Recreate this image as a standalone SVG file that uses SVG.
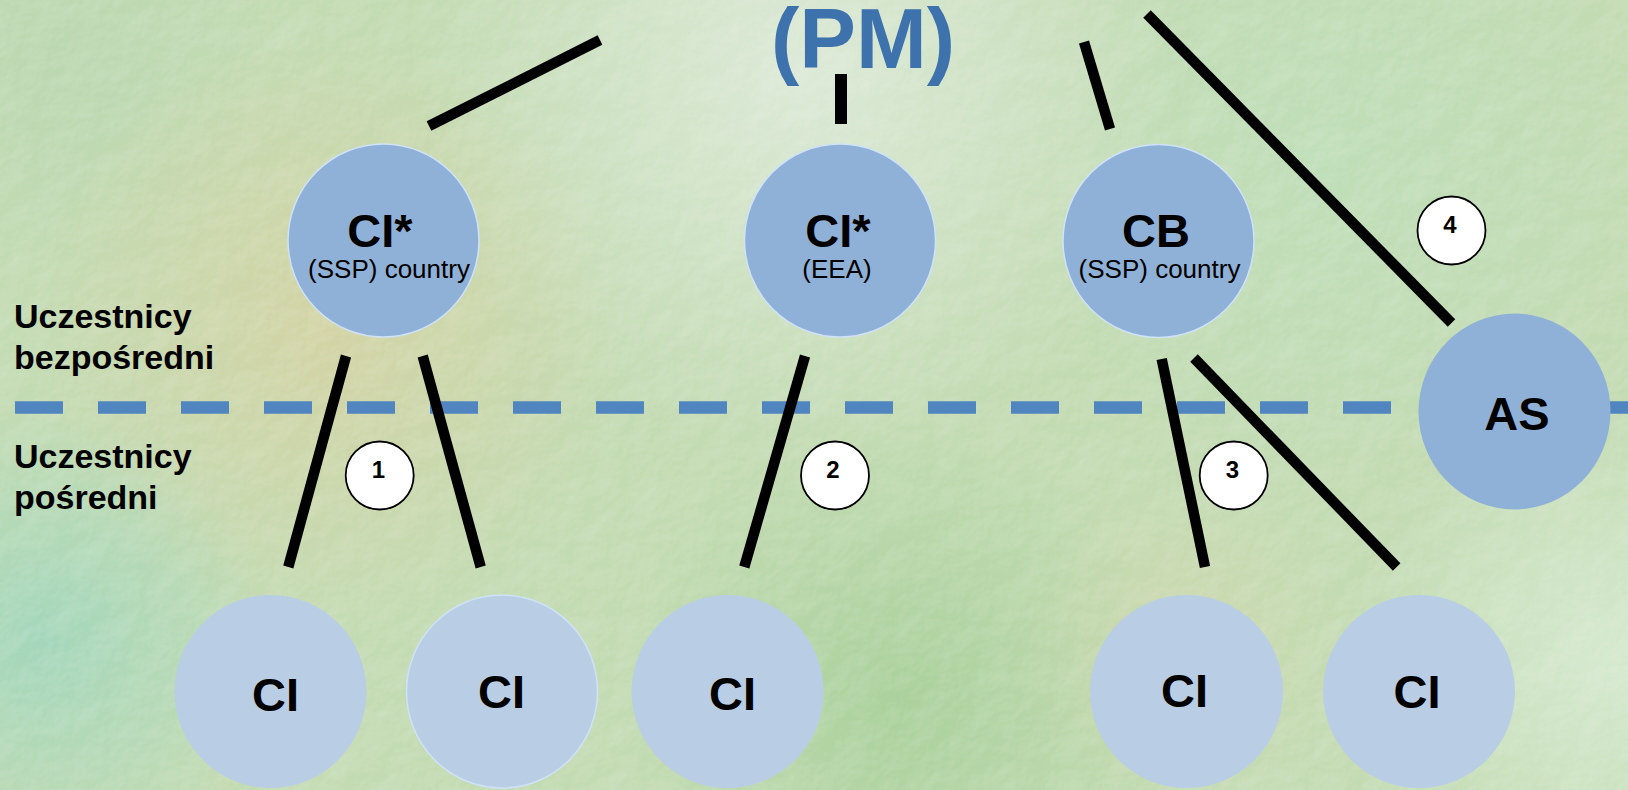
<svg xmlns="http://www.w3.org/2000/svg" width="1628" height="790" viewBox="0 0 1628 790">
<defs>
<style>
.conn line { stroke:#000; stroke-width:10.5; stroke-linecap:butt; }
.n1 { fill:#8fb1d7; }
.n2 { fill:#b9cee5; }
.rim { stroke:#cfe2f8; stroke-width:1.5; }
.big { font-family:"Liberation Sans", Arial, sans-serif; font-weight:bold; font-size:47px; text-anchor:middle; fill:#000; }
.sub { font-family:"Liberation Sans", Arial, sans-serif; font-size:26px; text-anchor:middle; fill:#000; }
.side { font-family:"Liberation Sans", Arial, sans-serif; font-weight:bold; font-size:34px; fill:#000; }
.badge circle { fill:#fff; stroke:#000; stroke-width:1.8; }
.badge text { font-family:"Liberation Sans", Arial, sans-serif; font-weight:bold; font-size:24px; text-anchor:middle; fill:#000; }
.title { font-family:"Liberation Sans", Arial, sans-serif; font-weight:bold; font-size:85px; text-anchor:middle; fill:#3e72ad; }
</style>
<radialGradient id="g1" cx="330" cy="330" r="300" gradientUnits="userSpaceOnUse"><stop offset="0" stop-color="#d6d2a2" stop-opacity="0.85"/><stop offset="1" stop-color="#d6d2a2" stop-opacity="0"/></radialGradient>
<radialGradient id="g2" cx="800" cy="70" r="380" gradientUnits="userSpaceOnUse"><stop offset="0" stop-color="#e2ede0" stop-opacity="0.8"/><stop offset="1" stop-color="#e2ede0" stop-opacity="0"/></radialGradient>
<radialGradient id="g3" cx="40" cy="640" r="230" gradientUnits="userSpaceOnUse"><stop offset="0" stop-color="#a0d6bc" stop-opacity="0.9"/><stop offset="1" stop-color="#a0d6bc" stop-opacity="0"/></radialGradient>
<radialGradient id="g4" cx="900" cy="700" r="280" gradientUnits="userSpaceOnUse"><stop offset="0" stop-color="#a4ce96" stop-opacity="0.8"/><stop offset="1" stop-color="#a4ce96" stop-opacity="0"/></radialGradient>
<radialGradient id="g5" cx="1610" cy="660" r="260" gradientUnits="userSpaceOnUse"><stop offset="0" stop-color="#dbeed8" stop-opacity="0.75"/><stop offset="1" stop-color="#dbeed8" stop-opacity="0"/></radialGradient>
<radialGradient id="g6" cx="1330" cy="160" r="320" gradientUnits="userSpaceOnUse"><stop offset="0" stop-color="#bce0bc" stop-opacity="0.6"/><stop offset="1" stop-color="#bce0bc" stop-opacity="0"/></radialGradient>
<radialGradient id="g7" cx="1180" cy="640" r="170" gradientUnits="userSpaceOnUse"><stop offset="0" stop-color="#d4d6aa" stop-opacity="0.5"/><stop offset="1" stop-color="#d4d6aa" stop-opacity="0"/></radialGradient>
<radialGradient id="g8" cx="60" cy="60" r="220" gradientUnits="userSpaceOnUse"><stop offset="0" stop-color="#b8d6b0" stop-opacity="0.7"/><stop offset="1" stop-color="#b8d6b0" stop-opacity="0"/></radialGradient>
<filter id="tex" x="0" y="0" width="100%" height="100%">
<feTurbulence type="fractalNoise" baseFrequency="0.028" numOctaves="4" seed="7" result="n"/>
<feDiffuseLighting in="n" surfaceScale="3" lighting-color="#ffffff" result="l"><feDistantLight azimuth="235" elevation="55"/></feDiffuseLighting>
<feColorMatrix type="matrix" values="0 0 0 0 1  0 0 0 0 1  0 0 0 0 1  1.3 0 0 0 -0.95"/>
</filter>
</defs>

<g id="background">
<rect x="0" y="0" width="1628" height="790" fill="#c3dbb3"/>
<rect x="0" y="0" width="1628" height="790" fill="url(#g8)"/>
<rect x="0" y="0" width="1628" height="790" fill="url(#g6)"/>
<rect x="0" y="0" width="1628" height="790" fill="url(#g1)"/>
<rect x="0" y="0" width="1628" height="790" fill="url(#g2)"/>
<rect x="0" y="0" width="1628" height="790" fill="url(#g3)"/>
<rect x="0" y="0" width="1628" height="790" fill="url(#g4)"/>
<rect x="0" y="0" width="1628" height="790" fill="url(#g5)"/>
<rect x="0" y="0" width="1628" height="790" fill="url(#g7)"/>
<rect x="0" y="0" width="1628" height="790" filter="url(#tex)" opacity="0.45"/>
</g>

<g id="title"><text class="title" x="863" y="68">(PM)</text></g>

<g id="side-labels">
<text class="side" x="14" y="328">Uczestnicy</text>
<text class="side" x="14" y="369">bezpośredni</text>
<text class="side" x="14" y="468">Uczestnicy</text>
<text class="side" x="14" y="509">pośredni</text>
</g>

<g id="divider"><line x1="15" y1="407.5" x2="1628" y2="407.5" stroke="#5085c0" stroke-width="12.5" stroke-dasharray="48 35"/></g>

<g id="connectors" class="conn">
<line x1="600" y1="40" x2="429" y2="126"/>
<line x1="841" y1="74" x2="841" y2="124" style="stroke-width:12"/>
<line x1="1084" y1="42" x2="1110" y2="129"/>
<line x1="1147" y1="14" x2="1451.5" y2="323"/>
<line x1="346" y1="356" x2="288.3" y2="567"/>
<line x1="422.7" y1="356" x2="480.7" y2="567"/>
<line x1="805" y1="356" x2="744.3" y2="567"/>
<line x1="1161.7" y1="359" x2="1205" y2="567"/>
<line x1="1194" y1="358" x2="1396.7" y2="567"/>
</g>

<g id="node-ci-ssp">
<ellipse class="n1 rim" cx="383.5" cy="240.5" rx="95.5" ry="96.5"/>
<text class="big" x="380" y="247">CI*</text>
<text class="sub" x="389" y="278">(SSP) country</text>
</g>
<g id="node-ci-eea">
<ellipse class="n1 rim" cx="840" cy="240.5" rx="95.5" ry="96.5"/>
<text class="big" x="838" y="247">CI*</text>
<text class="sub" x="837" y="278">(EEA)</text>
</g>
<g id="node-cb">
<ellipse class="n1 rim" cx="1158.5" cy="241" rx="95.5" ry="96.5"/>
<text class="big" x="1156" y="247">CB</text>
<text class="sub" x="1159.5" y="278">(SSP) country</text>
</g>
<g id="node-as">
<ellipse class="n1" cx="1514.5" cy="411.5" rx="96" ry="98"/>
<text class="big" x="1517" y="430">AS</text>
</g>

<g id="node-ci-1">
<ellipse class="n2" cx="270.5" cy="691.5" rx="96" ry="96.5"/>
<text class="big" x="275.5" y="711">CI</text>
</g>
<g id="node-ci-2">
<ellipse class="n2 rim" cx="502" cy="691.5" rx="95.5" ry="96.5"/>
<text class="big" x="501.5" y="708">CI</text>
</g>
<g id="node-ci-3">
<ellipse class="n2" cx="727.6" cy="691.5" rx="96" ry="96.5"/>
<text class="big" x="732.5" y="710">CI</text>
</g>
<g id="node-ci-4">
<ellipse class="n2" cx="1186.5" cy="691.5" rx="96.5" ry="96.5"/>
<text class="big" x="1184.5" y="707">CI</text>
</g>
<g id="node-ci-5">
<ellipse class="n2" cx="1419" cy="691.5" rx="96" ry="96.5"/>
<text class="big" x="1417" y="708">CI</text>
</g>

<g id="badge-1" class="badge"><circle cx="379.7" cy="475.5" r="34"/><text x="378.5" y="477.7">1</text></g>
<g id="badge-2" class="badge"><circle cx="835" cy="475.5" r="34"/><text x="833" y="477.7">2</text></g>
<g id="badge-3" class="badge"><circle cx="1233.7" cy="475.5" r="34"/><text x="1232.5" y="477.7">3</text></g>
<g id="badge-4" class="badge"><circle cx="1451.5" cy="230.5" r="34"/><text x="1450" y="232.5">4</text></g>
</svg>
